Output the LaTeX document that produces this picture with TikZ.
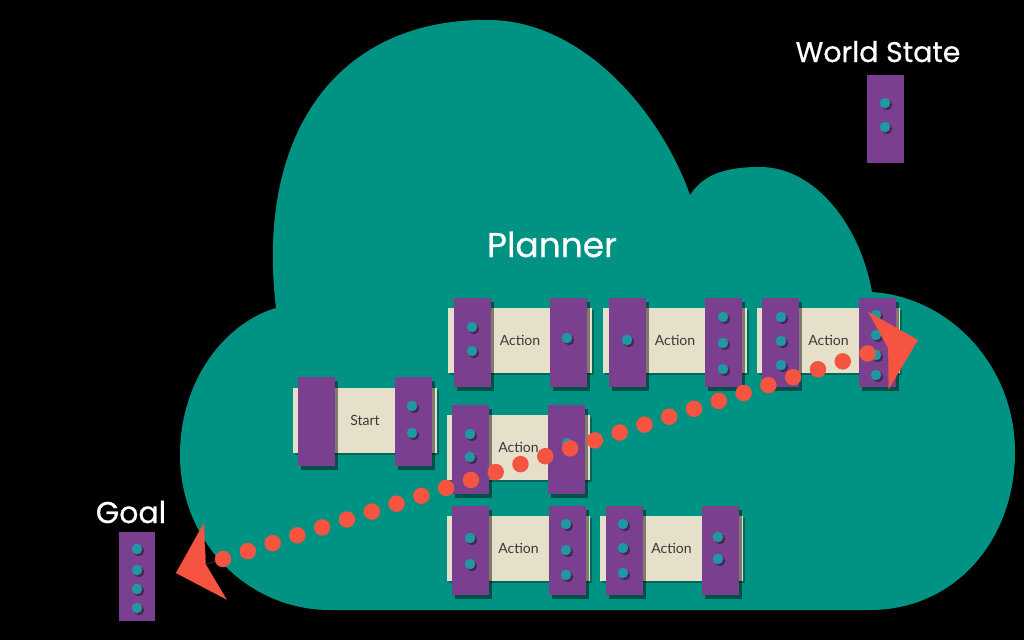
\documentclass[tikz,border=0pt]{standalone}
\usepackage{fontspec}
\setmainfont{Lato}
\newfontfamily\titlefont[FakeBold=0.6]{Poppins}
\usetikzlibrary{arrows.meta,shadows}
\definecolor{cloudc}{RGB}{0,146,130}
\definecolor{purplec}{RGB}{123,63,143}
\definecolor{creamc}{RGB}{230,223,202}
\definecolor{dotc}{RGB}{32,152,162}
\definecolor{redc}{RGB}{244,84,64}
\definecolor{inkc}{RGB}{58,58,58}
\begin{document}
\begin{tikzpicture}[x=0.02cm,y=-0.02cm,
  cream/.style={rectangle, fill=creamc, minimum width=2.88cm, minimum height=1.3cm, inner sep=0pt,
    font=\fontsize{8}{10}\selectfont, text=inkc,
    drop shadow={shadow xshift=0.04cm, shadow yshift=-0.04cm, opacity=0.3, fill=black}},
  bar/.style={rectangle, fill=purplec, minimum width=0.74cm, minimum height=1.78cm, inner sep=0pt,
    drop shadow={shadow xshift=0.06cm, shadow yshift=-0.08cm, opacity=0.45, fill=black}},
  dot/.style={circle, fill=dotc, minimum size=0.21cm, inner sep=0pt,
    drop shadow={shadow xshift=0.04cm, shadow yshift=-0.04cm, opacity=0.4, fill=black}},
  title/.style={text=white, anchor=base, inner sep=0pt},
  reddots/.style={draw=redc, line width=0.33cm, line cap=round, dash pattern=on 0pt off 0.5205cm},
  redtip/.style={draw=redc, line width=0.1pt, shorten <=0.16cm,
    -{Stealth[length=0.82cm, width=1.6cm, inset=0.2cm]}}
]
\useasboundingbox (0,0) rectangle (1024,640);
\fill[black] (0,0) rectangle (1024,640);

% cloud
\fill[cloudc] (330,610) .. controls (247,610) and (180,541) .. (180,455)
  .. controls (180,380) and (225,323) .. (276,308)
  .. controls (255,130) and (340,20) .. (485,20)
  .. controls (580,18) and (660,110) .. (690,195)
  .. controls (705,172) and (730,167) .. (760,167)
  .. controls (815,167) and (860,225) .. (872,292)
  .. controls (950,297) and (1015,366) .. (1015,452)
  .. controls (1015,540) and (955,610) .. (870,610)
  -- cycle;

\node[title, font=\titlefont\fontsize{19.6}{24}\selectfont] (planner) at (552,257) {Planner};
\node[title, font=\titlefont\fontsize{16.2}{20}\selectfont] (worldlabel) at (878,62) {World State};
\node[title, font=\titlefont\fontsize{17.1}{20}\selectfont] (goallabel) at (131,523) {Goal};

% world state
\node[bar] (ws) at (885.5,119) {};
\node[dot] (ws1) at (885,103) {};
\node[dot] (ws2) at (885,127) {};

% goal
\node[bar] (goal) at (137,576) {};
\node[dot] (g1) at (137,549) {};
\node[dot] (g2) at (137,570) {};
\node[dot] (g3) at (137,589) {};
\node[dot] (g4) at (137,608) {};

% start
\node[cream] (start) at (365,420) {Start};
\node[bar] (start-l) at (316.5,421) {};
\node[bar] (start-r) at (413,421) {};
\node[dot] (start-r1) at (412,406) {};
\node[dot] (start-r2) at (412,433) {};

% action 1
\node[cream] (a1) at (520,340.5) {Action};
\node[bar] (a1-l) at (472.5,342.5) {};
\node[bar] (a1-r) at (568.5,342.5) {};
\node[dot] (a1-l1) at (472,327) {};
\node[dot] (a1-l2) at (472,351) {};
\node[dot] (a1-r1) at (567,338) {};

% action 2
\node[cream] (a2) at (675,340.5) {Action};
\node[bar] (a2-l) at (627,342.5) {};
\node[bar] (a2-r) at (723.5,342.5) {};
\node[dot] (a2-l1) at (627,340) {};
\node[dot] (a2-r1) at (723,317) {};
\node[dot] (a2-r2) at (723,343) {};
\node[dot] (a2-r3) at (723,369) {};

% action 3
\node[cream] (a3) at (828.5,340.5) {Action};
\node[bar] (a3-l) at (780.5,342.5) {};
\node[bar] (a3-r) at (877,342.5) {};
\node[dot] (a3-l1) at (781,317) {};
\node[dot] (a3-l2) at (781,341) {};
\node[dot] (a3-l3) at (781,365) {};
\node[dot] (a3-r1) at (876,315) {};
\node[dot] (a3-r2) at (876,335) {};
\node[dot] (a3-r3) at (876,355) {};
\node[dot] (a3-r4) at (876,375) {};

% middle action
\node[cream] (m) at (518.5,447.5) {Action};
\node[bar] (m-l) at (470.5,449.5) {};
\node[bar] (m-r) at (566.5,449.5) {};
\node[dot] (m-l1) at (470,434) {};
\node[dot] (m-l2) at (470,457) {};
\node[dot] (m-r1) at (567,443) {};

% bottom action 1
\node[cream] (b1) at (518.5,548.5) {Action};
\node[bar] (b1-l) at (470,550.5) {};
\node[bar] (b1-r) at (567,550.5) {};
\node[dot] (b1-l1) at (470,538) {};
\node[dot] (b1-l2) at (470,564) {};
\node[dot] (b1-r1) at (566,524) {};
\node[dot] (b1-r2) at (566,550) {};
\node[dot] (b1-r3) at (566,575) {};

% bottom action 2
\node[cream] (b2) at (671.5,548.5) {Action};
\node[bar] (b2-l) at (624,550.5) {};
\node[bar] (b2-r) at (720,550.5) {};
\node[dot] (b2-l1) at (623,524) {};
\node[dot] (b2-l2) at (623,548) {};
\node[dot] (b2-l3) at (623,573) {};
\node[dot] (b2-r1) at (718,537) {};
\node[dot] (b2-r2) at (718,559) {};

% plan path
\coordinate (dotsL) at (223,559);
\coordinate (dotsR) at (869,353);
\coordinate (tipL) at (176,573);
\coordinate (tipR) at (918,340);
\draw[reddots] (dotsL) -- (dotsR);
\draw[redtip] (dotsL) -- (tipL);
\draw[redtip] (dotsR) -- (tipR);
\end{tikzpicture}
\end{document}
